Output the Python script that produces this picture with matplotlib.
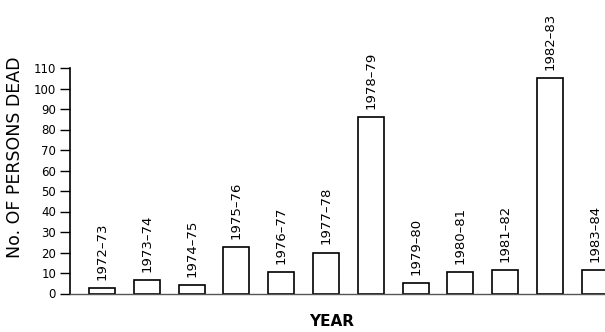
import numpy as np
import matplotlib.pyplot as plt

# data
years = ['1972-73', '1973-74', '1974-75', '1975-76', '1976-77', '1977-78',
         '1978-79', '1979-80', '1980-81', '1981-82', '1982-83', '1983-84']
dead = [2.5, 6.5, 4, 22.5, 10.5, 20, 86, 5, 10.5, 11.5, 105, 11.5]
yticks = list(range(0, 111, 10))

W, H = 605, 332
fig = plt.figure(figsize=(W / 100, H / 100), dpi=100)

# axes in pixel terms: left spine at x=70, zero at y=293.5, 110 at y=68
left, bottom, top = 70, 293.5, 68
step = 44.8  # pixels between bar centres
x0 = -(102 - left) / step
x1 = 11.6
ax = fig.add_axes([left / W, 1 - bottom / H,
                   (x1 - x0) * step / W, (bottom - top) / H])

x = np.arange(len(years))
ax.bar(x, dead, width=0.58, color='white', edgecolor='black', linewidth=1.2)

for xi, v, lab in zip(x, dead, years):
    ax.annotate(lab.replace('-', '\u2013'), (xi, v), xytext=(0, 6),
                textcoords='offset points', rotation=90,
                ha='center', va='bottom', fontsize=9.5)

ax.set_xlim(x0, x1)
ax.set_ylim(0, 110)
ax.set_yticks(yticks)
ax.set_yticklabels([str(t) for t in yticks], fontsize=8.5)
ax.tick_params(axis='y', direction='out', length=7, width=1, pad=3)
ax.set_xticks([])

for s in ['top', 'right']:
    ax.spines[s].set_visible(False)
ax.spines['left'].set_linewidth(1.2)
ax.spines['bottom'].set_linewidth(1.0)
ax.spines['bottom'].set_color('#555555')

fig.text(15 / W, 1 - 157 / H, 'No. OF PERSONS DEAD', rotation=90,
         ha='center', va='center', fontsize=12.5)
fig.text(332 / W, 1 - 322 / H, 'YEAR', ha='center', va='center',
         fontsize=11, fontweight='bold')

fig.savefig('out.png', dpi=100)
